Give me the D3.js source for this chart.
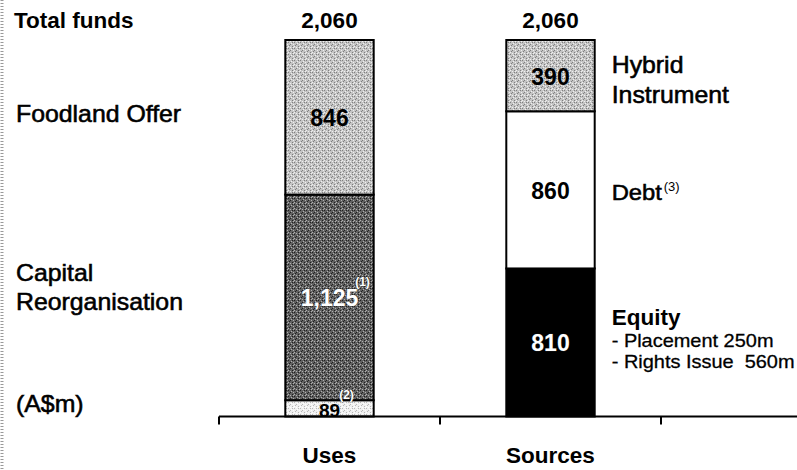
<!DOCTYPE html>
<html>
<head>
<meta charset="utf-8">
<script src="https://cdn.jsdelivr.net/npm/d3@7"></script>
<style>
  html, body { margin: 0; padding: 0; background: #ffffff; }
  svg { display: block; font-family: "Liberation Sans", Arial, sans-serif; }
</style>
</head>
<body>
<svg id="chart" width="797" height="470"></svg>
<script>
// ---------------- data ----------------
const categories = ["Uses", "Sources", ""];
const totals = [2060, 2060];
const totalLabels = ["2,060", "2,060"];
const usesSegments = ["Other", "Capital Reorganisation", "Foodland Offer"];
const usesValues = [89, 1125, 846];
const usesValueLabels = ["89", "1,125", "846"];
const usesNotes = ["(2)", "(1)", ""];
const sourcesSegments = ["Equity", "Debt", "Hybrid Instrument"];
const sourcesValues = [810, 860, 390];
const sourcesValueLabels = ["810", "860", "390"];
const leftLabels = [["Foodland Offer"], ["Capital", "Reorganisation"]];
const rightLabels = [["Hybrid", "Instrument"], ["Debt"], ["Equity"]];
const equityDetails = ["- Placement 250m", "- Rights Issue  560m"];
const unitLabel = "(A$m)";
const titleLabel = "Total funds";

// ---------------- setup ----------------
const svg = d3.select("#chart");
const W = 797, H = 470;
const axisY = 416.5;

const x = d3.scaleBand().domain(categories).range([219, 882]).paddingInner(0).paddingOuter(0);
const y = d3.scaleLinear().domain([0, 2060]).range([axisY, 40]);
const bw = x.bandwidth();
const barW = bw * 0.4;
const barX = c => x(c) + (bw - barW) / 2;
const cx = c => x(c) + bw / 2;

// patterns (textures)
const defs = svg.append("defs");
function stipple(id, base, dark, light) {
  const p = defs.append("pattern").attr("id", id).attr("patternUnits", "userSpaceOnUse")
    .attr("width", 6).attr("height", 6);
  p.append("rect").attr("width", 6).attr("height", 6).attr("fill", base);
  const dots = [[0,0,dark],[3,1,light],[1,3,dark],[4,4,dark],[5,2,light],[2,5,light],[4,0,dark],[0,4,light],[2,2,dark],[5,5,light]];
  dots.forEach(d => p.append("rect").attr("x", d[0]).attr("y", d[1]).attr("width", 1).attr("height", 1).attr("fill", d[2]));
}
stipple("pLight", "#c4c4c4", "#808080", "#f0f0f0");
stipple("pDark", "#606060", "#202020", "#b0b0b0");
stipple("pPale", "#f0f0f0", "#b8b8b8", "#ffffff");

// scan edge artifact on left
svg.append("line").attr("x1", 2).attr("x2", 2).attr("y1", 0).attr("y2", H)
  .attr("stroke", "#9a9a9a").attr("stroke-width", 3).attr("stroke-dasharray", "1,2");

// ---------------- stacked bars ----------------
function stackData(names, values) {
  let acc = 0;
  return names.map((n, i) => { const d = { name: n, v: values[i], y0: acc, y1: acc + values[i], i }; acc += values[i]; return d; });
}
const usesStack = stackData(usesSegments, usesValues);
const sourcesStack = stackData(sourcesSegments, sourcesValues);
const usesFills = ["url(#pPale)", "url(#pDark)", "url(#pLight)"];
const sourcesFills = ["#000000", "#ffffff", "url(#pLight)"];

function drawBar(cat, stack, fills) {
  const g = svg.append("g");
  g.selectAll("rect").data(stack).join("rect")
    .attr("x", barX(cat)).attr("width", barW)
    .attr("y", d => y(d.y1)).attr("height", d => y(d.y0) - y(d.y1))
    .attr("fill", (d, i) => fills[i])
    .attr("stroke", "#000").attr("stroke-width", 2);
}
drawBar("Uses", usesStack, usesFills);
drawBar("Sources", sourcesStack, sourcesFills);

// ---------------- axis ----------------
const axisG = svg.append("g");
axisG.append("line").attr("x1", x("Uses")).attr("x2", W).attr("y1", axisY).attr("y2", axisY)
  .attr("stroke", "#000").attr("stroke-width", 2);
const tickXs = [x("Uses"), x("Sources"), x("")];
axisG.selectAll("line.tick").data(tickXs).join("line").attr("class", "tick")
  .attr("x1", d => d).attr("x2", d => d).attr("y1", axisY).attr("y2", axisY + 8)
  .attr("stroke", "#000").attr("stroke-width", 2);
axisG.selectAll("text.cat").data(categories.slice(0, 2)).join("text").attr("class", "cat")
  .attr("x", d => cx(d)).attr("y", 463).attr("text-anchor", "middle")
  .attr("font-size", 22.5).attr("font-weight", "bold").text(d => d);

// ---------------- value labels ----------------
function valueLabels(cat, stack, labels, colors) {
  svg.append("g").selectAll("text").data(stack).join("text")
    .attr("x", cx(cat))
    .attr("y", d => d.i === 0 && d.v < 150 ? axisY + 0.5 : (y(d.y0) + y(d.y1)) / 2 + 9)
    .attr("text-anchor", "middle")
    .attr("font-size", d => d.v < 150 ? 19 : 23)
    .attr("font-weight", "bold")
    .attr("fill", (d, i) => colors[i])
    .attr("stroke", (d, i) => colors[i] === "#fff" ? "#333" : "none")
    .attr("stroke-width", 0.6)
    .attr("paint-order", "stroke")
    .text((d, i) => labels[i]);
}
valueLabels("Uses", usesStack, usesValueLabels, ["#000", "#fff", "#000"]);
valueLabels("Sources", sourcesStack, sourcesValueLabels, ["#fff", "#000", "#000"]);

// footnote marks on Uses bar
const capSeg = usesStack[1], othSeg = usesStack[0];
svg.append("text").attr("x", cx("Uses") + 33).attr("y", (y(capSeg.y0) + y(capSeg.y1)) / 2 - 11)
  .attr("font-size", 12).attr("font-weight", "bold").attr("fill", "#fff")
  .attr("stroke", "#222").attr("stroke-width", 0.5).attr("paint-order", "stroke")
  .attr("text-anchor", "middle").text(usesNotes[1]);
svg.append("text").attr("x", cx("Uses") + 17).attr("y", y(othSeg.y1) - 1)
  .attr("font-size", 12).attr("font-weight", "bold").attr("fill", "#fff")
  .attr("stroke", "#222").attr("stroke-width", 0.5).attr("paint-order", "stroke")
  .attr("text-anchor", "middle").text(usesNotes[0]);

// totals
svg.append("g").selectAll("text").data(categories.slice(0, 2)).join("text")
  .attr("x", d => cx(d)).attr("y", 28).attr("text-anchor", "middle")
  .attr("font-size", 22.5).attr("font-weight", "bold").text((d, i) => totalLabels[i]);

// ---------------- side labels ----------------
function wideText(xp, yp, str, size, weight) {
  const g = svg.append("g").attr("transform", `translate(${xp},${yp}) scale(1.08,1)`);
  const t = g.append("text").attr("x", 0).attr("y", 0).attr("font-size", size)
    .attr("font-weight", weight || "normal").attr("fill", "#000")
    .attr("stroke", weight === "bold" ? "none" : "#000").attr("stroke-width", 0.55)
    .text(str);
  return t;
}
svg.append("text").attr("x", 14).attr("y", 28).attr("font-size", 22.5).attr("font-weight", "bold").text(titleLabel);

// left labels for Uses segments
const foodMid = (y(usesStack[2].y0) + y(usesStack[2].y1)) / 2;
wideText(16, foodMid + 5, leftLabels[0][0], 23);
const capMid = (y(usesStack[1].y0) + y(usesStack[1].y1)) / 2;
leftLabels[1].forEach((s, i) => wideText(16, capMid - 16 + i * 29, s, 23));
wideText(16, 412, unitLabel, 23);

// right labels for Sources segments
const rx = barX("Sources") + barW + 17;
const hybMid = (y(sourcesStack[2].y0) + y(sourcesStack[2].y1)) / 2;
rightLabels[0].forEach((s, i) => wideText(rx, hybMid - 3 + i * 30, s, 23));
const debtMid = (y(sourcesStack[1].y0) + y(sourcesStack[1].y1)) / 2;
wideText(rx, debtMid + 10, rightLabels[1][0], 22);
svg.append("text").attr("x", rx + 52).attr("y", debtMid + 1).attr("font-size", 13).text("(3)");
const eqMid = (y(sourcesStack[0].y0) + y(sourcesStack[0].y1)) / 2;
svg.append("text").attr("x", rx).attr("y", eqMid - 17).attr("font-size", 22.5).attr("font-weight", "bold").text(rightLabels[2][0]);
equityDetails.forEach((s, i) => {
  const g = svg.append("g").attr("transform", `translate(${rx},${eqMid + 5 + i * 21}) scale(1.05,1)`);
  g.append("text").attr("font-size", 19).attr("stroke", "#000").attr("stroke-width", 0.3)
    .attr("xml:space", "preserve").style("white-space", "pre").text(s);
});
</script>
</body>
</html>
